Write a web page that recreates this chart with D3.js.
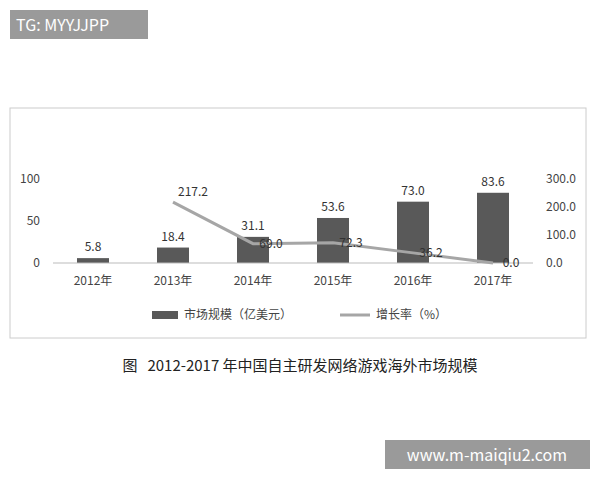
<!DOCTYPE html><html><head><meta charset="utf-8"><script src="https://d3js.org/d3.v7.min.js"></script>
<style>body{margin:0;background:#fff}</style></head><body><script>
const years=["2012年","2013年","2014年","2015年","2016年","2017年"];
const market=[5.8,18.4,31.1,53.6,73.0,83.6];
const growthYears=["2013年","2014年","2015年","2016年","2017年"];
const growth=[217.2,69.0,72.3,36.2,0.0];
const leftTicks=[0,50,100];
const rightTicks=[0,100,200,300];
const F="'Noto Sans CJK SC','Noto Sans',sans-serif";
const svg=d3.select("body").append("svg").attr("width",600).attr("height",480);
svg.append("rect").attr("width",600).attr("height",480).attr("fill","#fff");
svg.append("rect").attr("x",10).attr("y",108).attr("width",576).attr("height",230).attr("fill","none").attr("stroke","#ccc");
const x=d3.scaleBand().domain(years).range([53,533]).paddingInner(0.6).paddingOuter(0.3);
const yL=d3.scaleLinear().domain([0,100]).range([263,179]);
const yR=d3.scaleLinear().domain([0,300]).range([263,179]);
svg.append("g").selectAll("rect").data(market).join("rect")
 .attr("x",(d,i)=>x(years[i])).attr("width",x.bandwidth()).attr("y",d=>yL(d)).attr("height",d=>263-yL(d)).attr("fill","#595959");
svg.append("g").selectAll("text").data(market).join("text")
 .attr("x",(d,i)=>x(years[i])+x.bandwidth()/2).attr("y",d=>yL(d)-7).attr("text-anchor","middle")
 .attr("font-family",F).attr("font-size",12).attr("fill","#333").text(d=>d.toFixed(1));
svg.append("line").attr("x1",53).attr("x2",533).attr("y1",263).attr("y2",263).attr("stroke","#bbb");
const cx=d=>x(d)+x.bandwidth()/2;
svg.append("path").datum(growth).attr("fill","none").attr("stroke","#a6a6a6").attr("stroke-width",3)
 .attr("d",d3.line().x((d,i)=>cx(growthYears[i])).y(d=>yR(d)));
svg.append("g").selectAll("text").data(growth).join("text")
 .attr("x",(d,i)=>cx(growthYears[i])+(i==0?20:18)).attr("y",(d,i)=>yR(d)+(i==0?-6:4)).attr("text-anchor","middle")
 .attr("font-family",F).attr("font-size",12).attr("fill","#333").text(d=>d.toFixed(1));
const lAx=svg.append("g").attr("transform","translate(40,0)").call(d3.axisLeft(yL).tickValues(leftTicks).tickSize(0).tickPadding(0));
const rAx=svg.append("g").attr("transform","translate(546,0)").call(d3.axisRight(yR).tickValues(rightTicks).tickSize(0).tickPadding(0).tickFormat(d3.format(".1f")));
const xAx=svg.append("g").attr("transform","translate(0,276)").call(d3.axisBottom(x).tickSize(0).tickPadding(0));
[lAx,rAx,xAx].forEach(a=>{a.select(".domain").remove();a.selectAll("text").attr("font-family",F).attr("font-size",12).attr("fill","#444");});
svg.append("rect").attr("x",152).attr("y",311).attr("width",26).attr("height",8).attr("fill","#595959");
svg.append("text").attr("x",184).attr("y",319).attr("font-family",F).attr("font-size",12).attr("fill","#444").text("市场规模（亿美元）");
svg.append("line").attr("x1",340).attr("x2",370).attr("y1",315).attr("y2",315).attr("stroke","#a6a6a6").attr("stroke-width",3);
svg.append("text").attr("x",376).attr("y",319).attr("font-family",F).attr("font-size",12).attr("fill","#444").text("增长率（%）");
svg.append("text").attr("x",300).attr("y",371).attr("text-anchor","middle").attr("font-family",F).attr("font-size",15).attr("fill","#222").attr("xml:space","preserve").text("图   2012-2017 年中国自主研发网络游戏海外市场规模");
svg.append("rect").attr("x",10).attr("y",10).attr("width",138).attr("height",29).attr("fill","#9a9a9a");
svg.append("text").attr("x",16).attr("y",31).attr("font-family",F).attr("font-size",16).attr("fill","#fff").text("TG: MYYJJPP");
svg.append("rect").attr("x",385).attr("y",440).attr("width",205).attr("height",29).attr("fill","#9a9a9a");
svg.append("text").attr("x",487).attr("y",461).attr("text-anchor","middle").attr("font-family",F).attr("font-size",16).attr("fill","#fff").text("www.m-maiqiu2.com");
</script></body></html>
